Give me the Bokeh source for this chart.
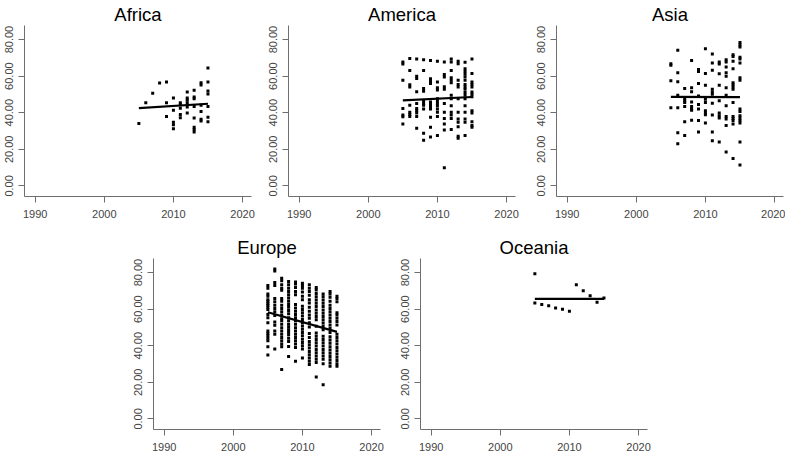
from bokeh.plotting import figure
from bokeh.layouts import column, row
from bokeh.models import FixedTicker, NumeralTickFormatter, Range1d, Spacer
from bokeh.embed import file_html
from bokeh.resources import INLINE

years = [2005, 2006, 2007, 2008, 2009, 2010, 2011, 2012, 2013, 2014, 2015]
x_ticks = [1990, 2000, 2010, 2020]
y_ticks = [0, 20, 40, 60, 80]

africa = [
    [34.1],
    [45.4],
    [50.6],
    [56.2],
    [56.8, 45.4, 38.0],
    [48.1, 41.4, 34.8, 33.5, 31.2],
    [45.4, 44.3, 42.5, 39.1, 37.3],
    [51.4, 48.1, 47.0, 45.4, 43.1, 39.8],
    [52.3, 48.6, 47.7, 43.4, 37.1, 32.1, 30.8, 29.4],
    [56.4, 55.1, 44.1, 40.7, 36.4, 35.5],
    [64.5, 56.8, 51.9, 50.3, 43.4, 37.5, 35.1],
]
america = [
    [67.8, 66.7, 57.8, 42.3, 38.7, 37.8, 33.9],
    [69.7, 63.1, 55.3, 54.1, 44.1, 40.2, 39.1, 38.0],
    [69.4, 60.0, 58.7, 51.5, 45.0, 42.3, 41.1, 39.8, 38.0, 31.5],
    [69.0, 63.1, 53.2, 51.7, 46.5, 45.2, 44.1, 42.0, 28.8, 24.9],
    [68.5, 58.6, 57.3, 56.0, 45.9, 44.5, 43.2, 42.0, 37.5, 32.1, 26.7],
    [68.1, 56.8, 53.7, 52.4, 47.7, 46.5, 45.0, 43.8, 42.0, 40.2, 38.0, 27.6],
    [67.7, 60.9, 59.6, 54.2, 52.8, 45.0, 40.2, 36.9, 33.9, 30.6, 9.9],
    [69.4, 67.7, 63.1, 59.1, 57.8, 56.4, 49.5, 47.7, 43.8, 40.2, 38.7, 36.9, 30.8],
    [68.1, 66.8, 57.7, 55.5, 54.1, 47.7, 40.2, 36.6, 34.8, 32.4, 27.2, 26.1],
    [67.6, 64.0, 62.5, 61.1, 59.6, 57.8, 55.5, 54.1, 52.8, 51.0, 49.5, 47.7, 43.8, 40.2, 36.6, 34.8, 27.6],
    [69.4, 61.4, 56.8, 55.5, 54.1, 51.4, 50.1, 48.8, 41.1, 39.8, 35.1, 33.0, 32.1],
]
asia = [
    [66.8, 65.9, 57.5, 42.7],
    [74.1, 61.8, 56.9, 49.5, 42.7, 29.0, 23.1],
    [53.2, 47.7, 46.5, 45.6, 43.4, 35.1, 27.6],
    [68.5, 53.7, 51.5, 45.9, 43.4, 42.0, 41.3, 35.9],
    [63.6, 62.5, 56.0, 49.2, 44.5, 42.0, 35.7, 29.4],
    [75.0, 61.4, 55.0, 47.4, 45.6, 41.1, 39.8, 38.9, 34.4],
    [72.1, 67.2, 63.2, 52.8, 51.4, 50.1, 45.2, 38.7, 29.4, 24.7],
    [67.7, 66.7, 61.3, 55.0, 46.5, 39.8, 38.4, 37.1, 24.0],
    [69.0, 67.7, 65.0, 61.8, 60.0, 53.7, 49.5, 43.8, 38.0, 36.6, 33.0, 18.6],
    [71.7, 70.8, 68.1, 64.0, 56.4, 55.3, 54.1, 52.8, 45.6, 38.0, 36.9, 35.7, 33.9, 15.0],
    [78.4, 77.1, 75.9, 70.3, 69.4, 67.2, 59.1, 57.8, 42.0, 40.7, 38.4, 37.1, 35.7, 34.4, 24.0, 11.4],
]
europe = [
    [73.0, 71.5, 68.3, 67.0, 65.2, 64.3, 63.1, 62.2, 61.1, 59.8, 57.1, 55.3, 52.6, 48.1, 46.7, 45.4, 44.1, 42.7, 39.5, 35.0],
    [82.0, 80.9, 74.6, 73.0, 65.8, 64.0, 62.2, 60.4, 58.6, 56.6, 53.0, 51.2, 48.1, 46.3, 38.2],
    [76.9, 75.5, 73.3, 71.5, 70.3, 65.8, 64.3, 62.2, 60.4, 58.6, 56.8, 54.8, 53.6, 51.7, 49.9, 48.1, 46.3, 44.5, 42.7, 40.9, 39.5, 27.0],
    [75.1, 73.3, 71.5, 69.7, 67.9, 66.1, 64.3, 62.5, 61.1, 59.3, 57.5, 55.3, 53.6, 51.7, 50.3, 48.8, 47.4, 46.0, 44.1, 42.3, 39.6, 34.1],
    [74.8, 73.7, 71.9, 69.7, 67.9, 62.5, 60.7, 58.9, 57.1, 55.3, 53.6, 51.7, 49.9, 48.1, 46.3, 44.5, 42.7, 40.9, 39.1, 31.5],
    [74.2, 73.0, 71.5, 69.4, 67.0, 65.2, 61.6, 59.8, 58.0, 56.2, 54.4, 52.6, 50.8, 49.0, 47.2, 45.4, 43.6, 41.8, 40.0, 38.2, 33.3],
    [73.3, 71.5, 69.7, 67.6, 65.2, 63.4, 61.1, 58.9, 56.8, 55.0, 52.6, 50.3, 46.7, 44.5, 42.3, 40.5, 38.7, 36.9, 35.1, 33.3, 31.5, 29.7],
    [71.9, 70.5, 68.6, 66.8, 65.0, 63.2, 61.4, 59.6, 57.8, 56.0, 54.2, 50.6, 47.0, 45.2, 43.4, 41.6, 39.8, 38.0, 36.2, 34.4, 32.6, 30.8, 22.9],
    [68.3, 66.8, 65.0, 63.2, 61.4, 59.6, 57.8, 56.0, 54.2, 52.4, 50.6, 48.8, 45.2, 43.4, 41.6, 39.8, 38.0, 36.2, 34.4, 32.6, 30.1, 18.7],
    [69.7, 68.3, 66.5, 64.3, 62.2, 60.4, 58.6, 56.8, 55.0, 53.2, 51.4, 49.5, 47.2, 44.9, 43.1, 41.3, 39.5, 37.7, 35.9, 34.1, 32.3, 30.5, 28.8],
    [67.0, 65.8, 64.0, 58.0, 56.8, 55.0, 53.2, 51.4, 46.3, 44.5, 42.7, 40.9, 39.1, 37.3, 35.5, 33.7, 31.9, 30.1, 28.8],
]
oceania = [
    [79.3, 63.3],
    [62.5],
    [61.8],
    [60.7],
    [60.0],
    [58.9],
    [73.3],
    [70.1],
    [67.4],
    [63.8],
    [66.1],
]

# fitted trend line values at first and last year
fit_years = [2005, 2015]
africa_fit = [42.5, 44.9]
america_fit = [46.8, 48.6]
asia_fit = [48.7, 48.5]
europe_fit = [58.3, 47.6]
oceania_fit = [65.6, 65.6]

FONT = "Liberation Sans"
AXIS_COLOR = "#6e6e6e"
LABEL_COLOR = "#444444"


def panel(name, values, fit, border_right, border_bottom):
    xs, ys = [], []
    for yr, vals in zip(years, values):
        for v in vals:
            xs.append(yr)
            ys.append(v)
    p = figure(frame_width=227, frame_height=171,
               x_range=Range1d(1988.45, 2021.3), y_range=Range1d(-5.8, 87.7),
               output_backend="svg", toolbar_location=None,
               min_border_left=24, min_border_right=border_right,
               min_border_top=0, min_border_bottom=border_bottom,
               background_fill_color="white", border_fill_color="white")
    p.outline_line_color = None
    p.xgrid.visible = False
    p.ygrid.visible = False

    p.title.text = name
    p.title.align = "center"
    p.title.text_font = FONT
    p.title.text_font_size = "18.5px"
    p.title.text_font_style = "normal"
    p.title.text_color = "black"
    p.title.standoff = 2

    for ax in (p.xaxis, p.yaxis):
        ax.axis_line_color = AXIS_COLOR
        ax.major_tick_line_color = AXIS_COLOR
        ax.major_tick_in = 0
        ax.major_tick_out = 6
        ax.minor_tick_line_color = None
        ax.major_label_text_font = FONT
        ax.major_label_text_font_size = "11px"
        ax.major_label_text_color = LABEL_COLOR
    p.xaxis.ticker = FixedTicker(ticks=x_ticks)
    p.yaxis.ticker = FixedTicker(ticks=y_ticks)
    p.yaxis.formatter = NumeralTickFormatter(format="0.00")
    p.yaxis.major_label_orientation = "vertical"
    p.yaxis.major_label_standoff = 5
    p.xaxis.major_label_standoff = 7

    p.scatter(xs, ys, marker="square", size=3.0, fill_color="black", line_color=None)
    p.line(fit_years, fit, line_width=2.2, line_color="black")
    return p


f1 = panel("Africa", africa, africa_fit, 13, 37)
f2 = panel("America", america, america_fit, 17, 37)
f3 = panel("Asia", asia, asia_fit, 2, 37)
f4 = panel("Europe", europe, europe_fit, 16, 0)
f5 = panel("Oceania", oceania, oceania_fit, 10, 0)

layout = column(row(f1, f2, f3), row(Spacer(width=129, height=10), f4, f5))

open("out.html", "w").write(file_html(layout, INLINE))
